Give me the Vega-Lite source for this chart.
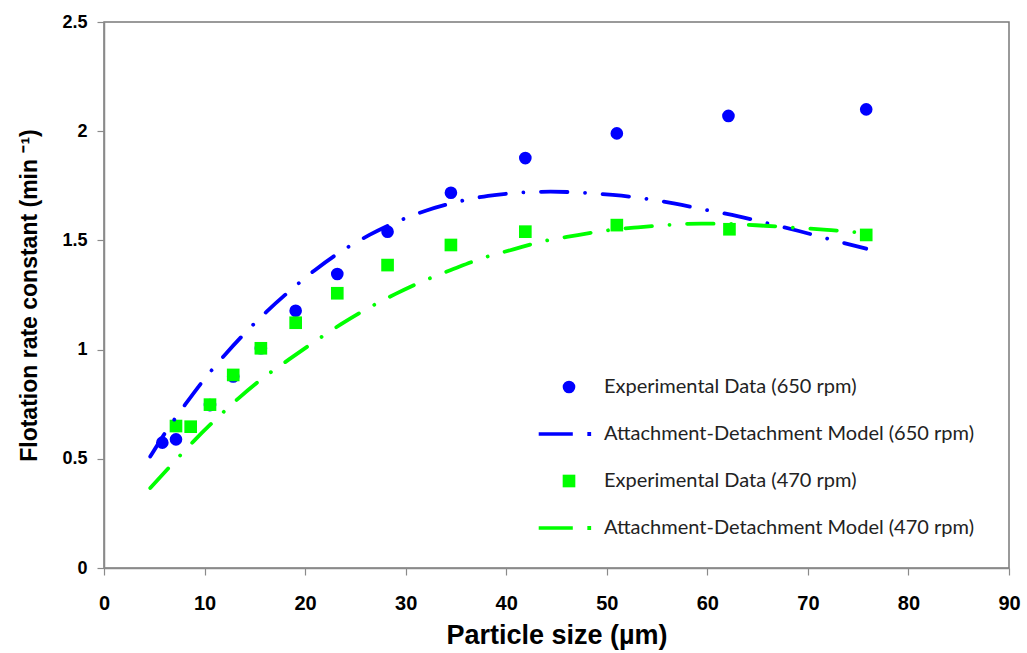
{
  "$schema": "https://vega.github.io/schema/vega-lite/v6.json",
  "width": 905,
  "height": 546,
  "autosize": {"type": "none"},
  "padding": {"left": 104, "top": 22, "right": 18, "bottom": 85},
  "background": "white",
  "config": {
    "view": {"stroke": "#7a7a7a", "strokeWidth": 1.5},
    "axis": {"grid": false, "domainColor": "#8a8a8a", "domainWidth": 1.5, "tickColor": "#8a8a8a", "tickWidth": 1.2, "tickSize": 7, "labelColor": "#000000", "titleColor": "#000000", "labelFontWeight": "bold", "titleFontWeight": "bold"}
  },
  "datasets": {
    "experimental": [
      {"series": "Experimental Data (650 rpm)", "size": 5.8, "k": 0.574},
      {"series": "Experimental Data (650 rpm)", "size": 7.16, "k": 0.589},
      {"series": "Experimental Data (650 rpm)", "size": 10.54, "k": 0.746},
      {"series": "Experimental Data (650 rpm)", "size": 12.85, "k": 0.877},
      {"series": "Experimental Data (650 rpm)", "size": 15.6, "k": 1.006},
      {"series": "Experimental Data (650 rpm)", "size": 19.06, "k": 1.178},
      {"series": "Experimental Data (650 rpm)", "size": 23.2, "k": 1.346},
      {"series": "Experimental Data (650 rpm)", "size": 28.2, "k": 1.54},
      {"series": "Experimental Data (650 rpm)", "size": 34.5, "k": 1.718},
      {"series": "Experimental Data (650 rpm)", "size": 41.9, "k": 1.877},
      {"series": "Experimental Data (650 rpm)", "size": 51.0, "k": 1.99},
      {"series": "Experimental Data (650 rpm)", "size": 62.1, "k": 2.07},
      {"series": "Experimental Data (650 rpm)", "size": 75.8, "k": 2.1},
      {"series": "Experimental Data (470 rpm)", "size": 7.16, "k": 0.65},
      {"series": "Experimental Data (470 rpm)", "size": 8.62, "k": 0.647},
      {"series": "Experimental Data (470 rpm)", "size": 10.54, "k": 0.748},
      {"series": "Experimental Data (470 rpm)", "size": 12.85, "k": 0.884},
      {"series": "Experimental Data (470 rpm)", "size": 15.6, "k": 1.006},
      {"series": "Experimental Data (470 rpm)", "size": 19.06, "k": 1.123},
      {"series": "Experimental Data (470 rpm)", "size": 23.2, "k": 1.258},
      {"series": "Experimental Data (470 rpm)", "size": 28.2, "k": 1.387},
      {"series": "Experimental Data (470 rpm)", "size": 34.5, "k": 1.479},
      {"series": "Experimental Data (470 rpm)", "size": 41.9, "k": 1.54},
      {"series": "Experimental Data (470 rpm)", "size": 51.0, "k": 1.57},
      {"series": "Experimental Data (470 rpm)", "size": 62.2, "k": 1.551},
      {"series": "Experimental Data (470 rpm)", "size": 75.8, "k": 1.525}
    ],
    "model": [
      {"series": "Attachment-Detachment Model (650 rpm)", "size": 4.6, "k": 0.51},
      {"series": "Attachment-Detachment Model (650 rpm)", "size": 6.1, "k": 0.62},
      {"series": "Attachment-Detachment Model (650 rpm)", "size": 8.1, "k": 0.75},
      {"series": "Attachment-Detachment Model (650 rpm)", "size": 9.9, "k": 0.86},
      {"series": "Attachment-Detachment Model (650 rpm)", "size": 12.1, "k": 0.98},
      {"series": "Attachment-Detachment Model (650 rpm)", "size": 13.9, "k": 1.07},
      {"series": "Attachment-Detachment Model (650 rpm)", "size": 16.2, "k": 1.175},
      {"series": "Attachment-Detachment Model (650 rpm)", "size": 18.5, "k": 1.27},
      {"series": "Attachment-Detachment Model (650 rpm)", "size": 21.0, "k": 1.365},
      {"series": "Attachment-Detachment Model (650 rpm)", "size": 23.5, "k": 1.447},
      {"series": "Attachment-Detachment Model (650 rpm)", "size": 26.4, "k": 1.525},
      {"series": "Attachment-Detachment Model (650 rpm)", "size": 29.1, "k": 1.585},
      {"series": "Attachment-Detachment Model (650 rpm)", "size": 32.0, "k": 1.636},
      {"series": "Attachment-Detachment Model (650 rpm)", "size": 35.0, "k": 1.675},
      {"series": "Attachment-Detachment Model (650 rpm)", "size": 38.2, "k": 1.704},
      {"series": "Attachment-Detachment Model (650 rpm)", "size": 41.2, "k": 1.718},
      {"series": "Attachment-Detachment Model (650 rpm)", "size": 44.4, "k": 1.723},
      {"series": "Attachment-Detachment Model (650 rpm)", "size": 47.4, "k": 1.719},
      {"series": "Attachment-Detachment Model (650 rpm)", "size": 50.6, "k": 1.708},
      {"series": "Attachment-Detachment Model (650 rpm)", "size": 53.7, "k": 1.692},
      {"series": "Attachment-Detachment Model (650 rpm)", "size": 56.8, "k": 1.668},
      {"series": "Attachment-Detachment Model (650 rpm)", "size": 59.8, "k": 1.64},
      {"series": "Attachment-Detachment Model (650 rpm)", "size": 63.1, "k": 1.61},
      {"series": "Attachment-Detachment Model (650 rpm)", "size": 66.0, "k": 1.578},
      {"series": "Attachment-Detachment Model (650 rpm)", "size": 69.1, "k": 1.543},
      {"series": "Attachment-Detachment Model (650 rpm)", "size": 72.0, "k": 1.507},
      {"series": "Attachment-Detachment Model (650 rpm)", "size": 75.8, "k": 1.462},
      {"series": "Attachment-Detachment Model (470 rpm)", "size": 4.6, "k": 0.366},
      {"series": "Attachment-Detachment Model (470 rpm)", "size": 6.7, "k": 0.472},
      {"series": "Attachment-Detachment Model (470 rpm)", "size": 8.9, "k": 0.58},
      {"series": "Attachment-Detachment Model (470 rpm)", "size": 11.1, "k": 0.68},
      {"series": "Attachment-Detachment Model (470 rpm)", "size": 13.4, "k": 0.778},
      {"series": "Attachment-Detachment Model (470 rpm)", "size": 15.7, "k": 0.866},
      {"series": "Attachment-Detachment Model (470 rpm)", "size": 18.4, "k": 0.955},
      {"series": "Attachment-Detachment Model (470 rpm)", "size": 20.9, "k": 1.035},
      {"series": "Attachment-Detachment Model (470 rpm)", "size": 23.5, "k": 1.114},
      {"series": "Attachment-Detachment Model (470 rpm)", "size": 26.2, "k": 1.188},
      {"series": "Attachment-Detachment Model (470 rpm)", "size": 29.0, "k": 1.255},
      {"series": "Attachment-Detachment Model (470 rpm)", "size": 31.8, "k": 1.315},
      {"series": "Attachment-Detachment Model (470 rpm)", "size": 34.8, "k": 1.37},
      {"series": "Attachment-Detachment Model (470 rpm)", "size": 37.6, "k": 1.418},
      {"series": "Attachment-Detachment Model (470 rpm)", "size": 40.8, "k": 1.46},
      {"series": "Attachment-Detachment Model (470 rpm)", "size": 43.3, "k": 1.492},
      {"series": "Attachment-Detachment Model (470 rpm)", "size": 46.8, "k": 1.522},
      {"series": "Attachment-Detachment Model (470 rpm)", "size": 49.9, "k": 1.545},
      {"series": "Attachment-Detachment Model (470 rpm)", "size": 53.1, "k": 1.56},
      {"series": "Attachment-Detachment Model (470 rpm)", "size": 56.1, "k": 1.571},
      {"series": "Attachment-Detachment Model (470 rpm)", "size": 59.4, "k": 1.577},
      {"series": "Attachment-Detachment Model (470 rpm)", "size": 62.5, "k": 1.575},
      {"series": "Attachment-Detachment Model (470 rpm)", "size": 65.7, "k": 1.567},
      {"series": "Attachment-Detachment Model (470 rpm)", "size": 68.8, "k": 1.558},
      {"series": "Attachment-Detachment Model (470 rpm)", "size": 71.9, "k": 1.548},
      {"series": "Attachment-Detachment Model (470 rpm)", "size": 74.9, "k": 1.537},
      {"series": "Attachment-Detachment Model (470 rpm)", "size": 75.8, "k": 1.533}
    ]
  },
  "encoding": {
    "x": {
      "field": "size", "type": "quantitative",
      "scale": {"domain": [0, 90], "nice": false, "zero": false},
      "axis": {"values": [0, 10, 20, 30, 40, 50, 60, 70, 80, 90], "title": "Particle size (µm)", "labelFont": "Liberation Sans", "labelFontSize": 20, "labelPadding": 18, "titleFont": "Liberation Sans", "titleFontSize": 27, "titlePadding": 9, "labelFlush": false}
    },
    "y": {
      "field": "k", "type": "quantitative",
      "scale": {"domain": [0, 2.5], "nice": false},
      "axis": {"values": [0, 0.5, 1, 1.5, 2, 2.5], "format": "~g", "title": "Flotation rate constant (min ⁻¹)", "labelFont": "Liberation Sans", "labelFontSize": 18, "labelPadding": 10, "titleFont": "Liberation Sans", "titleFontSize": 23, "titlePadding": 20, "labelFlush": false}
    }
  },
  "layer": [
    {
      "data": {"name": "experimental"},
      "mark": {"type": "point", "filled": true, "opacity": 1, "size": 160},
      "encoding": {
        "color": {
          "field": "series", "type": "nominal",
          "scale": {"domain": ["Experimental Data (650 rpm)", "Attachment-Detachment Model (650 rpm)", "Experimental Data (470 rpm)", "Attachment-Detachment Model (470 rpm)"], "range": ["#0000ff", "#0000ff", "#00ff00", "#00ff00"]},
          "legend": {
            "title": null, "orient": "none", "legendX": 455, "legendY": 355,
            "labelFont": "Lato", "labelFontSize": 20, "labelColor": "#222222", "labelLimit": 600,
            "rowPadding": 27, "labelOffset": 25, "padding": 0, "symbolSize": 160,
            "symbolOpacity": 1, "symbolStrokeWidth": 0
          }
        },
        "shape": {
          "field": "series", "type": "nominal",
          "scale": {"domain": ["Experimental Data (650 rpm)", "Attachment-Detachment Model (650 rpm)", "Experimental Data (470 rpm)", "Attachment-Detachment Model (470 rpm)"], "range": ["circle", "M-4.79,-0.29H0.6V0.29H-4.79Z M2.9,-0.3H3.5V0.3H2.9Z", "square", "M-4.79,-0.29H0.6V0.29H-4.79Z M2.9,-0.3H3.5V0.3H2.9Z"]},
          "legend": {
            "title": null, "orient": "none", "legendX": 455, "legendY": 355,
            "labelFont": "Lato", "labelFontSize": 20, "labelColor": "#222222", "labelLimit": 600,
            "rowPadding": 27, "labelOffset": 25, "padding": 0, "symbolSize": 160,
            "symbolOpacity": 1, "symbolStrokeWidth": 0
          }
        }
      }
    },
    {
      "data": {"name": "model"},
      "transform": [{"filter": "datum.series == 'Attachment-Detachment Model (650 rpm)'"}],
      "mark": {"type": "line", "color": "#0000ff", "strokeWidth": 3.8, "strokeCap": "round", "strokeDash": [26.5, 17.6, 0.01, 17.6], "interpolate": "monotone"},
      "encoding": {}
    },
    {
      "data": {"name": "model"},
      "transform": [{"filter": "datum.series == 'Attachment-Detachment Model (470 rpm)'"}],
      "mark": {"type": "line", "color": "#00ff00", "strokeWidth": 3.8, "strokeCap": "round", "strokeDash": [26.5, 17.6, 0.01, 17.6], "interpolate": "monotone"},
      "encoding": {}
    }
  ]
}
